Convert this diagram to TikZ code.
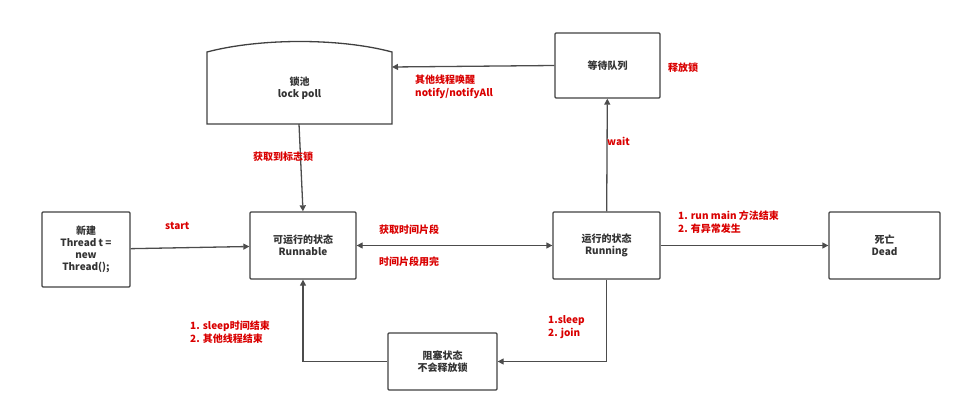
\documentclass[tikz,border=0pt]{standalone}
\usepackage{fontspec}
\setmainfont{Liberation Sans}
\newfontfamily\cjk{Noto Sans CJK SC}
\usetikzlibrary{arrows.meta}
\begin{document}
\begin{tikzpicture}[x=1pt,y=-1pt,
 box/.style={draw=black!75,line width=1.3pt,rounded corners=1pt,align=center,font=\cjk\bfseries\fontsize{10}{12}\selectfont,text=black!80,inner sep=0pt},
 ar/.style={draw=black!70,line width=1.3pt,-{Triangle[length=6pt,width=6pt]}},
 lb/.style={text=red!85!black,font=\cjk\bfseries\fontsize{10}{12.5}\selectfont,align=left,anchor=west,inner sep=0pt}]
\useasboundingbox (0,0) rectangle (970,417);
\node[box,minimum width=88,minimum height=75] (new) at (86,249.5) {新建\\Thread t =\\new\\Thread();};
\node[box,minimum width=106,minimum height=67] (rn) at (303,245.5) {可运行的状态\\Runnable};
\node[box,minimum width=107,minimum height=67] (ru) at (606.5,245.5) {运行的状态\\Running};
\node[box,minimum width=111,minimum height=67] (dead) at (884.5,245.5) {死亡\\Dead};
\node[box,minimum width=105,minimum height=65] (wq) at (607.5,65.5) {等待队列};
\node[box,minimum width=109,minimum height=57] (bl) at (442.5,361.5) {阻塞状态\\不会释放锁};
\draw[draw=black!75,line width=1.3pt] (207,52) .. controls (260,38) and (340,38) .. (392,52) -- (392,124) -- (207,124) -- cycle;
\node[box,minimum width=185,minimum height=72,draw=none] (lp) at (299.5,88) {锁池\\lock poll};
\coordinate (lpr) at (392,67);
\coordinate (lpb) at (299,124);
\draw[ar] (new) -- (rn);
\draw[ar] (lpb) -- (rn.north);
\draw[ar,{Triangle[length=6pt,width=6pt]}-{Triangle[length=6pt,width=6pt]}] (rn) -- (ru);
\draw[ar] (ru) -- (dead);
\draw[ar] (ru) -- (wq);
\draw[ar] (wq.west) -- (lpr);
\draw[ar] (ru.south) |- (bl.east);
\draw[ar] (bl.west) -| (rn.south);
\node[lb] (l1) at (165,226) {start};
\node[lb] (l2) at (253,157) {获取到标志锁};
\node[lb] (l3) at (379,230) {获取时间片段};
\node[lb] (l4) at (379,262) {时间片段用完};
\node[lb] (l5) at (678,222) {1. run main 方法结束\\2. 有异常发生};
\node[lb] (l6) at (607,141) {wait};
\node[lb] (l7) at (415,87) {其他线程唤醒\\notify/notifyAll};
\node[lb] (l8) at (668,68) {释放锁};
\node[lb] (l9) at (548,327) {1.sleep\\2. join};
\node[lb] (l10) at (190,332) {1. sleep时间结束\\2. 其他线程结束};
\end{tikzpicture}
\end{document}
